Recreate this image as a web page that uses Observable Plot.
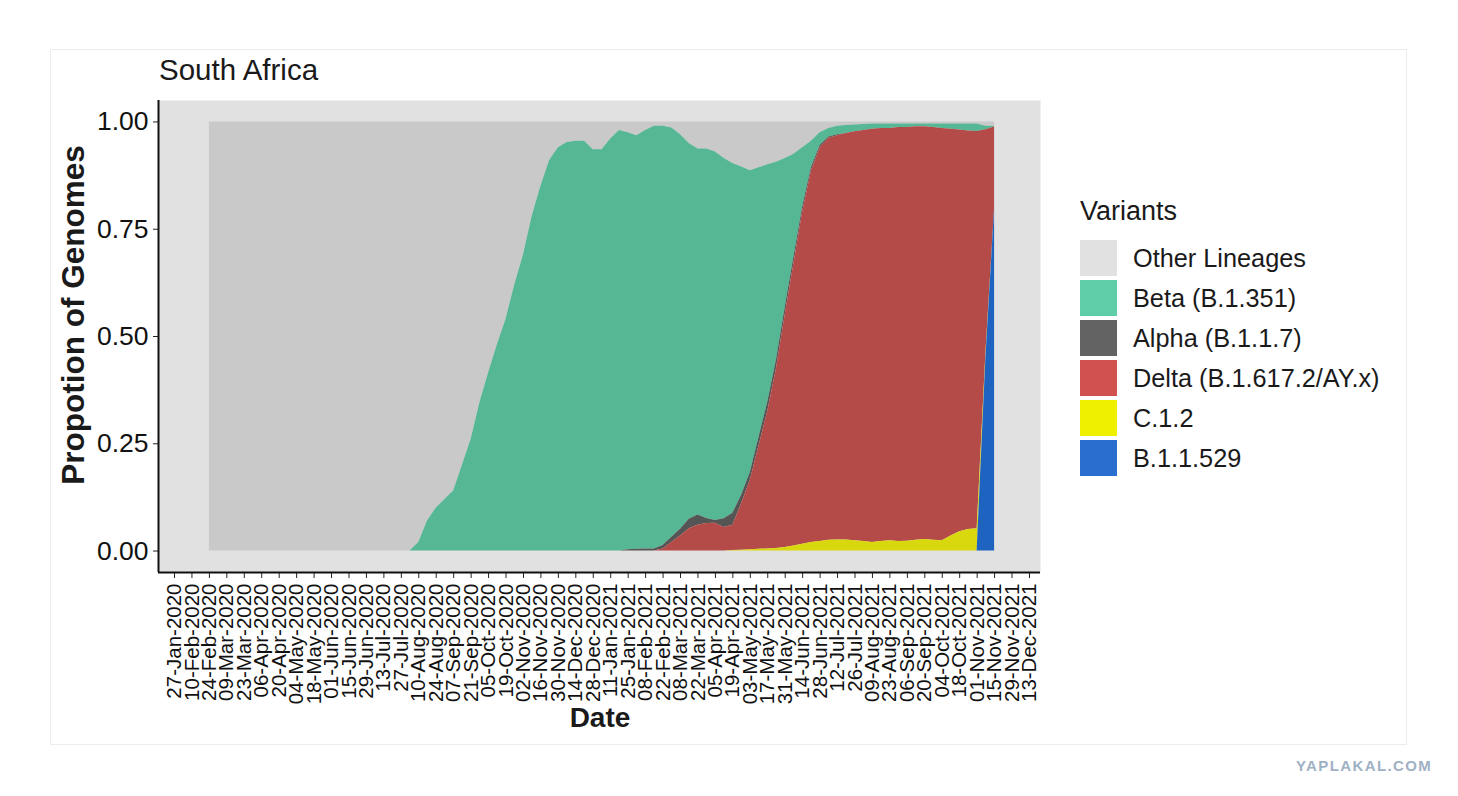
<!DOCTYPE html>
<html><head><meta charset="utf-8">
<script src="https://cdn.jsdelivr.net/npm/d3@7"></script>
<script src="https://cdn.jsdelivr.net/npm/@observablehq/plot@0.6"></script>
<style>
body{margin:0;background:#fff;font-family:"Liberation Sans",Arial,sans-serif;color:#1a1a1a;}
#wrap{position:relative;width:1458px;height:796px;overflow:hidden;background:#fff;}
.card{position:absolute;left:50px;top:49px;width:1357px;height:696px;border:1px solid #ececec;box-sizing:border-box;}
#chart{position:absolute;left:0;top:0;}
.title{position:absolute;left:159px;top:55px;font-size:29.5px;line-height:29.5px;white-space:nowrap;}
.ylab{position:absolute;left:74px;top:315px;font-size:31.5px;line-height:31.5px;font-weight:bold;white-space:nowrap;transform:translate(-50%,-50%) rotate(-90deg);}
.xlab{position:absolute;left:600px;top:704px;font-size:28px;line-height:28px;font-weight:bold;transform:translateX(-50%);}
.legend{position:absolute;left:1080px;top:198px;}
.legend .lt{font-size:27px;line-height:27px;margin-bottom:13px;white-space:nowrap;}
.legend .row{display:flex;align-items:center;height:40px;}
.legend .sw{width:37px;height:36px;margin-right:16px;}
.legend .lb{font-size:25.3px;white-space:nowrap;}
.wm{position:absolute;left:1296px;top:758px;font-size:15px;line-height:15px;font-weight:bold;letter-spacing:1.4px;color:#9fb1c4;}
</style></head><body>
<div id="wrap">
  <div class="card"></div>
  <div id="chart"></div>
  <div class="title">South Africa</div>
  <div class="ylab">Propotion of Genomes</div>
  <div class="xlab">Date</div>
  <div class="legend" id="legend"></div>
  <div class="wm">YAPLAKAL.COM</div>
</div>
<script>
// ---- categories ----
const variants = ["Other Lineages", "Beta (B.1.351)", "Alpha (B.1.1.7)", "Delta (B.1.617.2/AY.x)", "C.1.2", "B.1.1.529"];
const areaColors = ["#c9c9c9", "#56b795", "#555555", "#b54b49", "#d9d80e", "#1f63c0"];
const legendColors = ["#e1e1e1", "#5ecda8", "#636363", "#d0514d", "#eef000", "#2a6fd0"];

// weekly sample dates: 24-Feb-2020 ... 15-Nov-2021 (91 weeks)
const firstWeek = "2020-02-24";
const nWeeks = 91;

// x tick labels (every two weeks)
const tickDates = ["2020-01-27","2020-02-10","2020-02-24","2020-03-09","2020-03-23","2020-04-06","2020-04-20","2020-05-04","2020-05-18","2020-06-01","2020-06-15","2020-06-29","2020-07-13","2020-07-27","2020-08-10","2020-08-24","2020-09-07","2020-09-21","2020-10-05","2020-10-19","2020-11-02","2020-11-16","2020-11-30","2020-12-14","2020-12-28","2021-01-11","2021-01-25","2021-02-08","2021-02-22","2021-03-08","2021-03-22","2021-04-05","2021-04-19","2021-05-03","2021-05-17","2021-05-31","2021-06-14","2021-06-28","2021-07-12","2021-07-26","2021-08-09","2021-08-23","2021-09-06","2021-09-20","2021-10-04","2021-10-18","2021-11-01","2021-11-15","2021-11-29","2021-12-13"];
const yTicks = [0, 0.25, 0.5, 0.75, 1];

// ---- series values (proportions per week) ----
const other = [
1,1,1,1,1,1,1,1,1,1,
1,1,1,1,1,1,1,1,1,1,
1,1,1,1,0.98,0.93,0.90,0.88,0.86,0.80,
0.74,0.655,0.585,0.52,0.46,0.38,0.31,0.22,0.15,0.09,
0.06,0.048,0.045,0.045,0.065,0.065,0.04,0.02,0.025,0.032,
0.02,0.01,0.01,0.014,0.03,0.05,0.063,0.063,0.07,0.085,
0.097,0.105,0.114,0.107,0.10,0.094,0.085,0.075,0.06,0.045,
0.025,0.015,0.01,0.008,0.007,0.006,0.005,0.005,0.005,0.005,
0.005,0.005,0.005,0.005,0.005,0.005,0.005,0.005,0.005,0.01,
0.01];
const beta = [
0,0,0,0,0,0,0,0,0,0,
0,0,0,0,0,0,0,0,0,0,
0,0,0,0,0.02,0.07,0.10,0.12,0.14,0.20,
0.26,0.345,0.415,0.48,0.54,0.62,0.69,0.78,0.85,0.91,
0.94,0.952,0.955,0.955,0.935,0.935,0.96,0.98,0.972,0.964,
0.975,0.985,0.977,0.954,0.919,0.876,0.853,0.861,0.859,0.84,
0.815,0.765,0.703,0.628,0.553,0.461,0.347,0.24,0.138,0.062,
0.03,0.02,0.02,0.019,0.016,0.014,0.012,0.01,0.01,0.008,
0.008,0.006,0.006,0.008,0.01,0.012,0.014,0.016,0.017,0.008,
0.002];
const alpha = [
0,0,0,0,0,0,0,0,0,0,
0,0,0,0,0,0,0,0,0,0,
0,0,0,0,0,0,0,0,0,0,
0,0,0,0,0,0,0,0,0,0,
0,0,0,0,0,0,0,0,0.003,0.004,
0.005,0.005,0.008,0.012,0.016,0.022,0.024,0.012,0.006,0.02,
0.028,0.02,0.018,0.02,0.022,0.02,0.018,0.015,0.012,0.008,
0.005,0.003,0.002,0,0,0,0,0,0,0,
0,0,0,0,0,0,0,0,0,0,
0];
const delta = [
0,0,0,0,0,0,0,0,0,0,
0,0,0,0,0,0,0,0,0,0,
0,0,0,0,0,0,0,0,0,0,
0,0,0,0,0,0,0,0,0,0,
0,0,0,0,0,0,0,0,0,0,
0,0,0.005,0.02,0.035,0.052,0.06,0.064,0.065,0.055,
0.059,0.108,0.162,0.241,0.32,0.42,0.542,0.658,0.774,0.865,
0.918,0.937,0.942,0.947,0.953,0.958,0.963,0.963,0.962,0.965,
0.965,0.965,0.963,0.963,0.962,0.948,0.937,0.93,0.928,0.525,
0.19];
const c12 = [
0,0,0,0,0,0,0,0,0,0,
0,0,0,0,0,0,0,0,0,0,
0,0,0,0,0,0,0,0,0,0,
0,0,0,0,0,0,0,0,0,0,
0,0,0,0,0,0,0,0,0,0,
0,0,0,0,0,0,0,0,0,0,
0.001,0.002,0.003,0.004,0.005,0.006,0.008,0.012,0.016,0.02,
0.022,0.025,0.026,0.026,0.024,0.022,0.02,0.022,0.024,0.022,
0.023,0.025,0.027,0.025,0.024,0.035,0.045,0.05,0.052,0.01,
0];
const omicron = [
0,0,0,0,0,0,0,0,0,0,
0,0,0,0,0,0,0,0,0,0,
0,0,0,0,0,0,0,0,0,0,
0,0,0,0,0,0,0,0,0,0,
0,0,0,0,0,0,0,0,0,0,
0,0,0,0,0,0,0,0,0,0,
0,0,0,0,0,0,0,0,0,0,
0,0,0,0,0,0,0,0,0,0,
0,0,0,0,0,0,0,0,0,0.45,
0.8];

// ---- build table ----
const seriesValues = [other, beta, alpha, delta, c12, omicron];
const start = new Date(firstWeek + "T00:00:00Z");
const weeks = d3.range(nWeeks).map(i => d3.utcDay.offset(start, 7 * i));
const rows = [];
variants.forEach((v, k) => {
  weeks.forEach((d, i) => rows.push({date: d, variant: v, value: seriesValues[k][i]}));
});
const ticks = tickDates.map(s => new Date(s + "T00:00:00Z"));
const xDomain = [new Date(Date.UTC(2020, 0, 14, 4)), new Date(Date.UTC(2021, 11, 21, 20))];

const chart = Plot.plot({
  width: 1060,
  height: 745,
  marginLeft: 158,
  marginRight: 20,
  marginTop: 100,
  marginBottom: 173,
  style: {fontFamily: "'Liberation Sans', Arial, sans-serif", color: "#111", background: "transparent", overflow: "visible"},
  x: {type: "utc", domain: xDomain},
  y: {domain: [-0.05, 1.05]},
  color: {domain: variants, range: areaColors},
  marks: [
    Plot.frame({fill: "#e1e1e1", stroke: null}),
    Plot.areaY(rows, Plot.stackY({
      x: "date", y: "value", z: "variant", fill: "variant",
      order: variants.slice().reverse(), offset: "normalize"
    })),
    Plot.axisY(yTicks, {tickFormat: d3.format(".2f"), tickSize: 5, tickPadding: 5, fontSize: 26.5, label: null, stroke: "#222"}),
    Plot.axisX(ticks, {tickFormat: d3.utcFormat("%d-%b-%Y"), tickRotate: -90, tickSize: 6, tickPadding: 5, fontSize: 20.5, label: null, stroke: "#222"}),
    Plot.ruleX([xDomain[0]], {stroke: "#111", strokeWidth: 2}),
    Plot.ruleY([-0.05], {stroke: "#111", strokeWidth: 2})
  ]
});
document.getElementById("chart").appendChild(chart);

// ---- legend ----
const lg = document.getElementById("legend");
const lt = document.createElement("div");
lt.className = "lt"; lt.textContent = "Variants"; lg.appendChild(lt);
variants.forEach((v, k) => {
  const r = document.createElement("div"); r.className = "row";
  const s = document.createElement("div"); s.className = "sw"; s.style.background = legendColors[k];
  const t = document.createElement("div"); t.className = "lb"; t.textContent = v;
  r.appendChild(s); r.appendChild(t); lg.appendChild(r);
});
</script>
</body></html>
